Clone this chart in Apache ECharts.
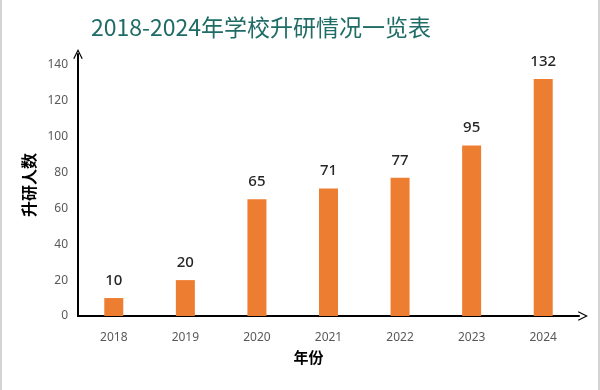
<!DOCTYPE html>
<html>
<head>
<meta charset="utf-8">
<script src="https://cdn.jsdelivr.net/npm/echarts@6/dist/echarts.min.js"></script>
<style>
html,body{margin:0;padding:0;background:#fff;}
#wrap{position:relative;width:600px;height:390px;box-sizing:border-box;border-left:2px solid #d4d4d4;border-right:2px solid #d4d4d4;}
#chart{position:absolute;left:-2px;top:0;width:600px;height:390px;}
</style>
</head>
<body>
<div id="wrap"><div id="chart"></div></div>
<script>
var categories = ['2018', '2019', '2020', '2021', '2022', '2023', '2024'];
var values = [10, 20, 65, 71, 77, 95, 132];
var titleText = '2018-2024年学校升研情况一览表';
var xName = '年份';
var yName = '升研人数';

var chart = echarts.init(document.getElementById('chart'), null, {renderer: 'canvas'});
var chevron = 'path://M0,12 L6,0 L12,12 L10.6,12.6 L6,3.2 L1.4,12.6 Z';
chart.setOption({
  animation: false,
  backgroundColor: 'transparent',
  title: {
    text: titleText,
    left: 86,
    top: 11,
    textStyle: {fontFamily: 'Noto Sans CJK SC', fontSize: 23, fontWeight: 'normal', color: '#1f6b66'}
  },
  grid: {left: 78, right: 21, top: 54, bottom: 74, containLabel: false},
  xAxis: {
    type: 'category',
    data: categories,
    name: xName,
    nameLocation: 'middle',
    nameGap: 34,
    nameTextStyle: {fontFamily: 'Noto Sans CJK SC', fontSize: 15, fontWeight: 'bold', color: '#000', padding: [0, 40, 0, 0]},
    axisLine: {show: true, symbol: ['none', chevron], symbolSize: [12, 10], symbolOffset: [0, 4], lineStyle: {color: '#000', width: 2}},
    axisTick: {show: false},
    axisLabel: {margin: 16, fontFamily: 'Noto Sans', fontSize: 12, color: '#595959'}
  },
  yAxis: {
    type: 'value',
    min: 0,
    max: 146,
    interval: 20,
    name: yName,
    nameLocation: 'middle',
    nameGap: 40,
    nameRotate: 90,
    nameTextStyle: {fontFamily: 'Noto Sans CJK SC', fontSize: 16, fontWeight: 'bold', color: '#000'},
    axisLine: {show: true, symbol: ['none', chevron], symbolSize: [12, 10], symbolOffset: [0, 0], lineStyle: {color: '#000', width: 2}},
    axisTick: {show: false},
    splitLine: {show: false},
    axisLabel: {showMaxLabel: false, margin: 10, fontFamily: 'Noto Sans', fontSize: 12, color: '#595959'}
  },
  series: [{
    type: 'bar',
    data: values,
    barWidth: 19,
    itemStyle: {color: '#ED7D31'},
    label: {show: true, position: 'top', distance: 10, fontFamily: 'Noto Sans', fontSize: 15, fontWeight: 500, color: '#262626'}
  }]
});
</script>
</body>
</html>
